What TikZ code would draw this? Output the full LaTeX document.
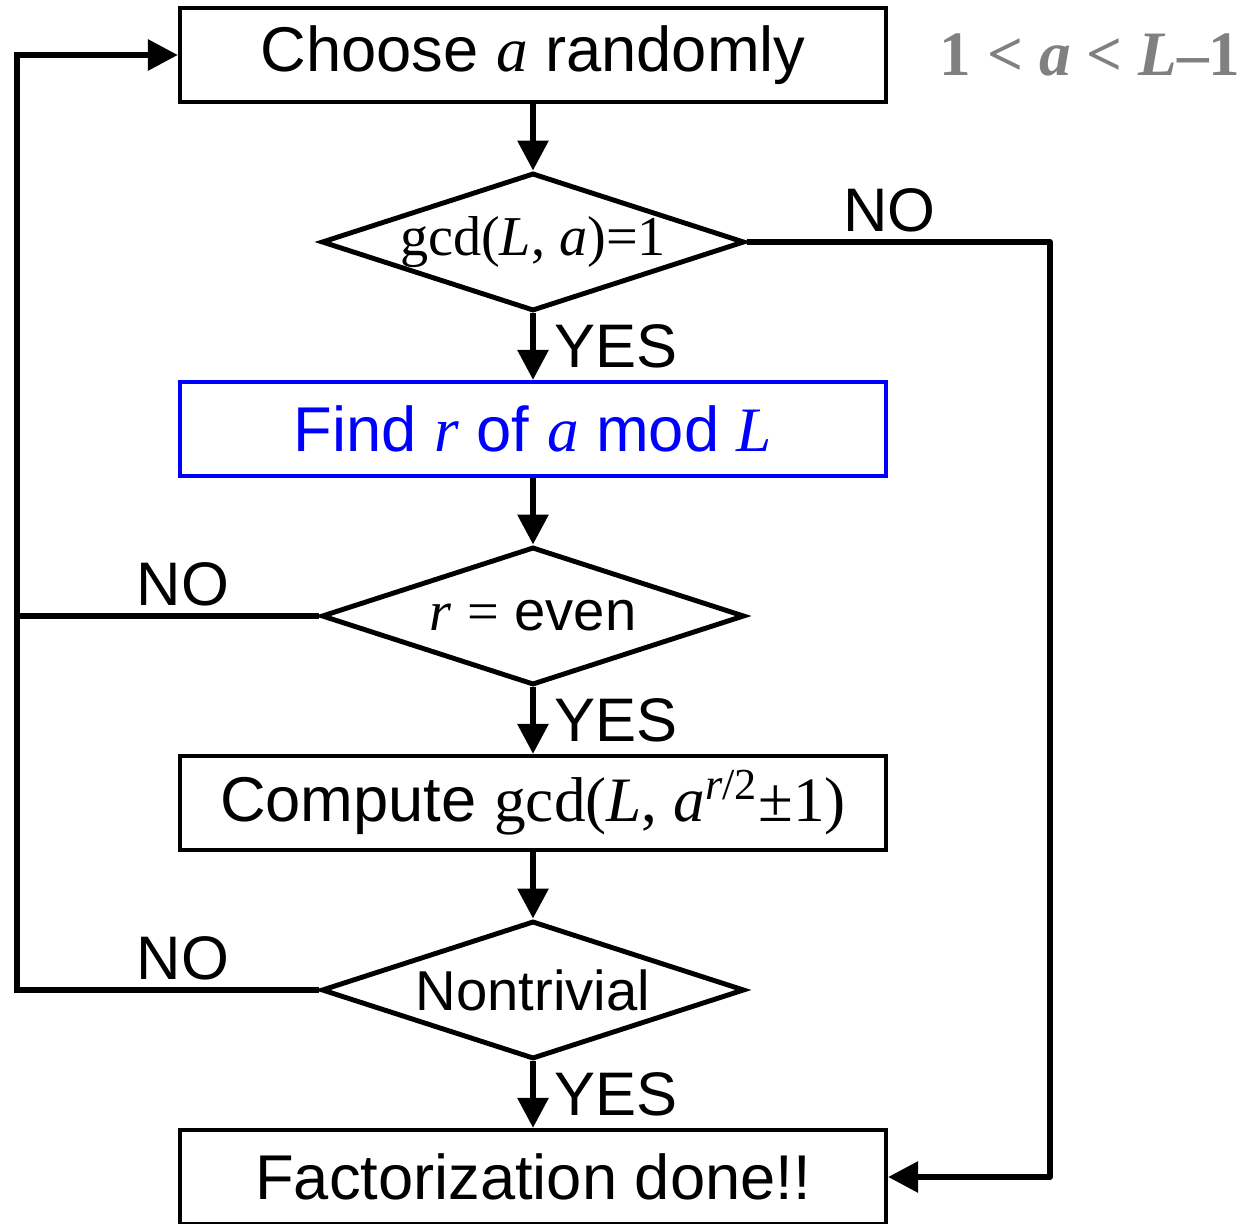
\documentclass[tikz,border=0pt]{standalone}
\usepackage{fontspec}
\setmainfont{Liberation Sans}
\newfontfamily\tnr{Liberation Serif}
\newcommand{\mi}[1]{{\tnr\itshape #1}}
\definecolor{findblue}{HTML}{0000FF}
\definecolor{rangegray}{HTML}{808080}
\usetikzlibrary{arrows.meta,positioning,shapes.geometric}

\begin{document}
\begin{tikzpicture}[
node distance=1.87cm,
box/.style={rectangle, draw, line width=1.2pt, minimum width=7.06cm, minimum height=0.94cm, inner sep=0pt, font=\fontsize{18}{21}\selectfont},
decision/.style={diamond, draw, line width=1.4pt, aspect=3.07, inner sep=0pt, minimum width=4.23cm, minimum height=1.38cm, font=\fontsize{16}{19}\selectfont},
arr/.style={-{Triangle[length=0.3cm, width=0.3cm]}, line width=1.7pt},
conn/.style={line width=1.7pt},
lbl/.style={font=\fontsize{17.5}{20}\selectfont}
]
\useasboundingbox (0,0) rectangle (12.52,12.23);

\node (choose) [box] at (5.33,11.68) {Choose \mi{a} randomly};
\node (coprime) [decision, below of=choose] {\tnr gcd(\mi{L}, \mi{a})=1};
\node (find) [box, below of=coprime, draw=findblue, text=findblue] {Find \mi{r} of \mi{a} mod \mi{L}};
\node (even) [decision, below of=find] {\mi{r} {\tnr =} even};
\node (compute) [box, below of=even] {Compute {\tnr gcd(\mi{L}, \mi{a}\textsuperscript{\mi{r}/2}±1)}};
\node (nontriv) [decision, below of=compute] {Nontrivial};
\node (done) [box, below of=nontriv] {Factorization done!!};
\node (range) [font=\fontsize{18}{21}\selectfont\tnr\bfseries, text=rangegray] at (10.90,11.68) {1 < \mi{a} < \mi{L}–1};

\coordinate (rside) at (10.50,9.81);
\coordinate (lside) at (0.17,11.68);

\draw [arr] (choose) -- (coprime);
\draw [arr] (coprime) -- node [lbl, right, xshift=2pt] {YES} (find);
\draw [arr] (find) -- (even);
\draw [arr] (even) -- node [lbl, right, xshift=2pt] {YES} (compute);
\draw [arr] (compute) -- (nontriv);
\draw [arr] (nontriv) -- node [lbl, right, xshift=2pt] {YES} (done);

% NO branches
\draw [arr, line join=round] (coprime.east) -- node [lbl, above, pos=0.47, inner sep=2pt] {NO} (rside) |- (done.east);
\draw [conn] (even.west) -- node [lbl, above, pos=0.45, inner sep=2pt] {NO} (even.west -| lside);
\draw [arr] (nontriv.west) -- node [lbl, above, pos=0.45, inner sep=2pt] {NO} (nontriv.west -| lside) |- (choose.west);
\end{tikzpicture}
\end{document}
